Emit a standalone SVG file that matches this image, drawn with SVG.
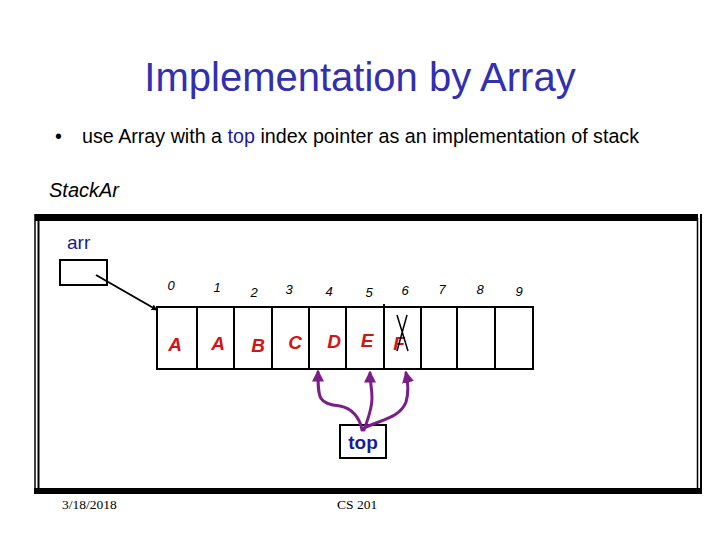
<svg xmlns="http://www.w3.org/2000/svg" width="720" height="540" viewBox="0 0 720 540">
<style>
.cell{fill:none;stroke:#000;stroke-width:2}
.idx{font-family:"Liberation Sans",Arial,sans-serif;font-style:italic;font-size:13px;fill:#000;text-anchor:middle}
.val{font-family:"Liberation Sans",Arial,sans-serif;font-style:italic;font-weight:bold;font-size:19px;fill:#d41414;text-anchor:middle}
.ptr{fill:none;stroke:#7a1f8a;stroke-width:3;stroke-linecap:round}
.foot{font-family:"Liberation Serif","Times New Roman",serif;font-size:13.5px;fill:#000}
</style>
<defs>
<marker id="ah" viewBox="0 0 10 10" refX="9" refY="5" markerWidth="6" markerHeight="6" orient="auto" markerUnits="userSpaceOnUse">
<path d="M0,0 L10,5 L0,10 z" fill="#000"/>
</marker>
<marker id="ph" viewBox="0 0 10 10" refX="8" refY="5" markerWidth="4" markerHeight="4" orient="auto">
<path d="M0,0 L10,5 L0,10 z" fill="#7a1f8a"/>
</marker>
</defs>
<rect width="720" height="540" fill="#fff"/>
<text x="360" y="91" font-family="Liberation Sans,Arial,sans-serif" font-size="40" fill="#3030b0" text-anchor="middle">Implementation by Array</text>
<g id="bullet" font-family="Liberation Sans,Arial,sans-serif" font-size="19.7" fill="#000">
<text x="55" y="143">•</text>
<text x="82" y="143">use Array with a <tspan fill="#1a1a9a">top</tspan> index pointer as an implementation of stack</text>
</g>
<text x="49" y="197" font-family="Liberation Sans,Arial,sans-serif" font-size="20" font-style="italic" fill="#000">StackAr</text>
<g id="frame">
<rect x="35" y="214" width="663" height="7" fill="#000"/>
<rect x="34" y="488" width="668" height="6" fill="#000"/>
<line x1="35" y1="214" x2="35" y2="494" stroke="#000" stroke-width="1.5"/>
<line x1="38.5" y1="220" x2="38.5" y2="490" stroke="#000" stroke-width="2"/>
<line x1="697.5" y1="218" x2="697.5" y2="490" stroke="#000" stroke-width="1.5"/>
<line x1="701" y1="214" x2="701" y2="494" stroke="#000" stroke-width="2"/>
</g>
<g id="arr">
<text x="67" y="249" font-family="Liberation Sans,Arial,sans-serif" font-size="19" fill="#1a1a8c">arr</text>
<rect x="60" y="260" width="47" height="25" class="cell"/>
</g>
<g id="array">
<rect x="157" y="307" width="376" height="62" class="cell"/>
<path class="cell" d="M197,307V369 M234,307V369 M272,307V369 M309,307V369 M346,307V369 M384,304V369 M421,307V369 M457,307V369 M495,307V369"/>
<text class="idx" x="171" y="290">0</text>
<text class="idx" x="217" y="292">1</text>
<text class="idx" x="254" y="297">2</text>
<text class="idx" x="289" y="294">3</text>
<text class="idx" x="329" y="296">4</text>
<text class="idx" x="369" y="297">5</text>
<text class="idx" x="405" y="295">6</text>
<text class="idx" x="442" y="294">7</text>
<text class="idx" x="480" y="294">8</text>
<text class="idx" x="519" y="296">9</text>
<text class="val" x="175" y="351">A</text>
<text class="val" x="218" y="350">A</text>
<text class="val" x="258" y="352">B</text>
<text class="val" x="295" y="349">C</text>
<text class="val" x="334" y="348">D</text>
<text class="val" x="367" y="347">E</text>
<text class="val" x="399" y="350">F</text>
<path d="M397,315 L408,351 M407,315 L397,351" stroke="#000" stroke-width="1.5" fill="none"/>
</g>
<g id="top">
<rect x="340" y="425" width="46" height="33" class="cell"/>
<text x="363" y="449" font-family="Liberation Sans,Arial,sans-serif" font-size="19" font-weight="bold" fill="#1a1a9a" text-anchor="middle">top</text>
</g>
<g id="connectors">
<line x1="96" y1="275" x2="157" y2="310" stroke="#000" stroke-width="2" marker-end="url(#ah)"/>
<path class="ptr" d="M362,430 C360,418 352,408 340,406 C318,404 318,398 318,372" marker-end="url(#ph)"/>
<path class="ptr" d="M364,430 C368,418 372,410 372,398 C372,388 370,382 370,373" marker-end="url(#ph)"/>
<path class="ptr" d="M364,428 C380,420 400,418 406,402 C409,392 408,382 406,373" marker-end="url(#ph)"/>
</g>
<text class="foot" x="62" y="509">3/18/2018</text>
<text class="foot" x="337" y="509">CS 201</text>
</svg>
